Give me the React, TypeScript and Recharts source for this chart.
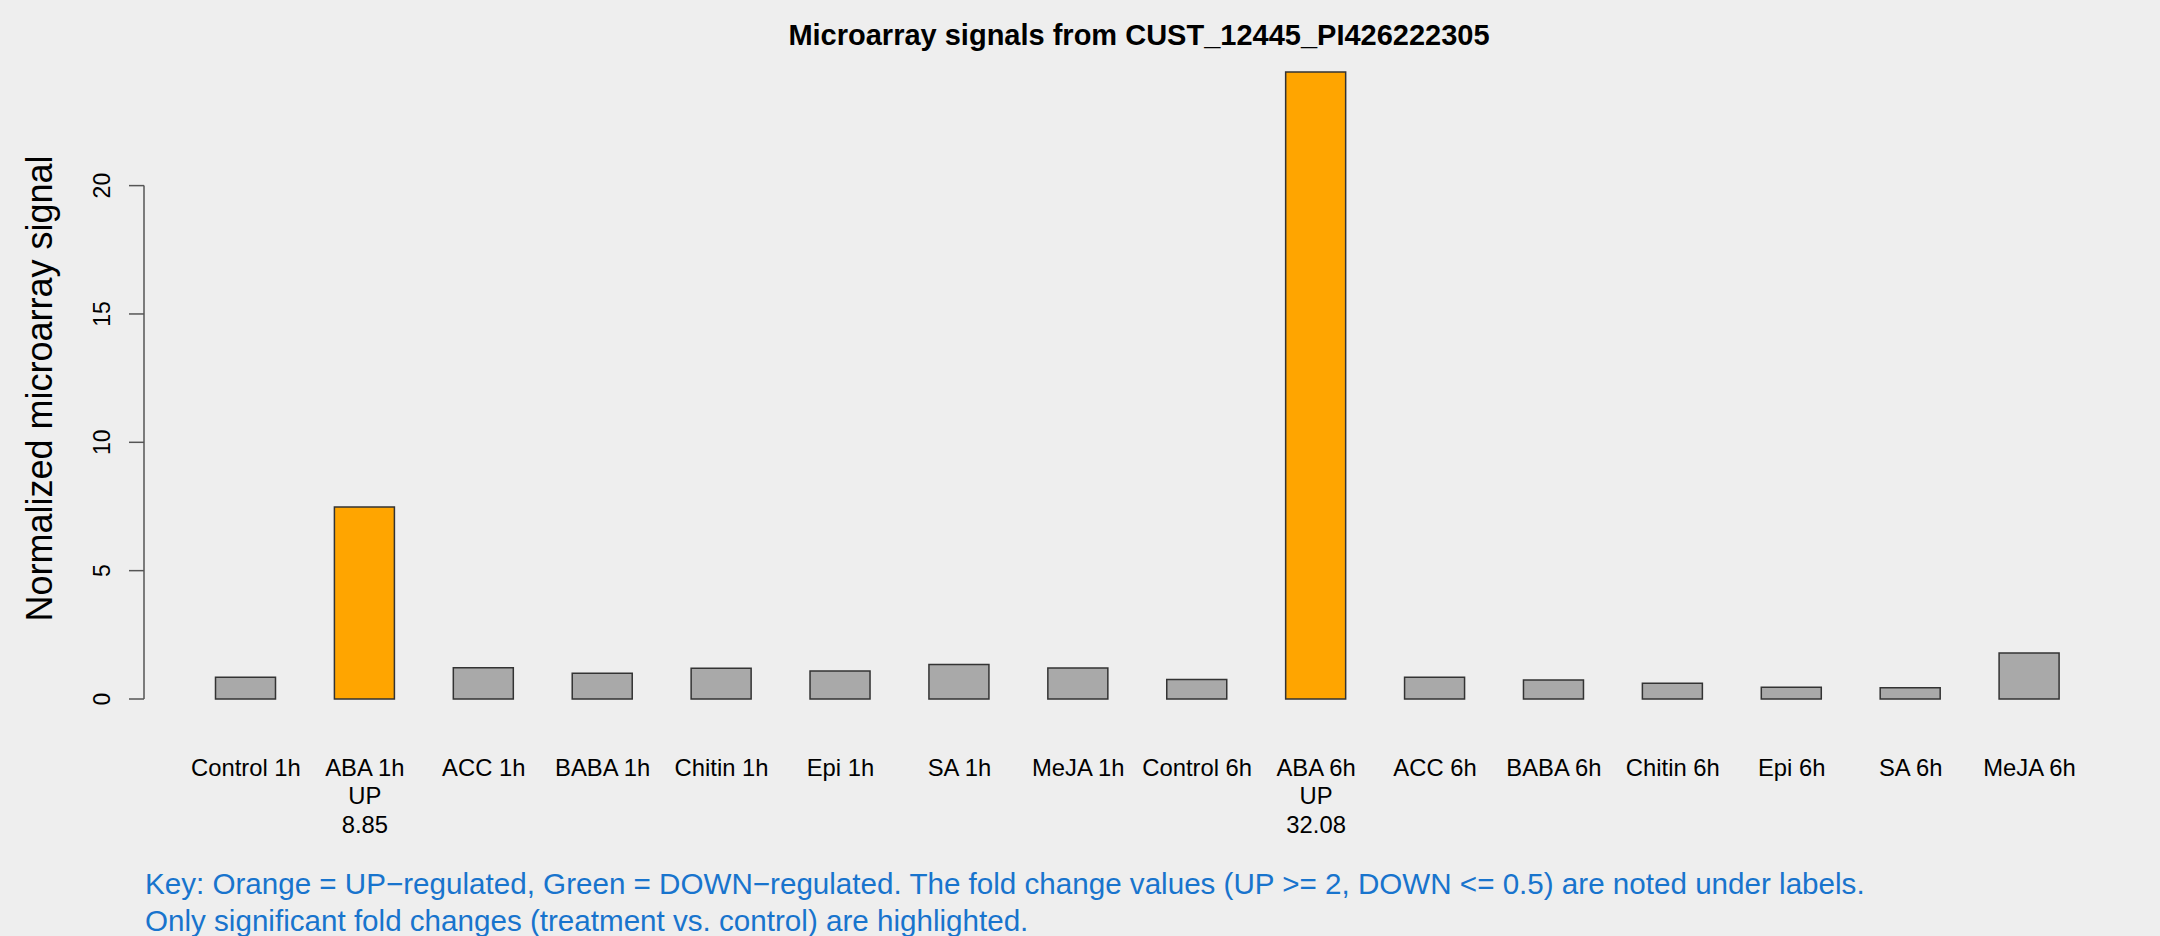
import { BarChart, Bar, XAxis, YAxis, Cell, ReferenceLine } from 'recharts'

const categories = [
  'Control 1h', 'ABA 1h', 'ACC 1h', 'BABA 1h', 'Chitin 1h', 'Epi 1h', 'SA 1h', 'MeJA 1h',
  'Control 6h', 'ABA 6h', 'ACC 6h', 'BABA 6h', 'Chitin 6h', 'Epi 6h', 'SA 6h', 'MeJA 6h',
]
const signals = [0.845, 7.48, 1.22, 1.0, 1.2, 1.09, 1.34, 1.21, 0.76, 24.43, 0.845, 0.74, 0.61, 0.455, 0.44, 1.79]
const regulation = ['', 'UP', '', '', '', '', '', '', '', 'UP', '', '', '', '', '', '']
const foldLabels = ['', '8.85', '', '', '', '', '', '', '', '32.08', '', '', '', '', '', '']
const yTicks = [0, 5, 10, 15, 20]

const chartTitle = 'Microarray signals from CUST_12445_PI426222305'
const yTitle = 'Normalized microarray signal'
const keyLines = [
  'Key: Orange = UP\u2212regulated, Green = DOWN\u2212regulated. The fold change values (UP >= 2, DOWN <= 0.5) are noted under labels.',
  'Only significant fold changes (treatment vs. control) are highlighted.',
]

const data = categories.map((name, i) => ({ name, signal: signals[i] }))

const FONT = '"Liberation Sans", Arial, Helvetica, sans-serif'
const colorFor = (reg: string) => (reg === 'UP' ? '#FFA500' : reg === 'DOWN' ? '#00C000' : '#A9A9A9')

function XTick({ x, y, payload }: any) {
  const i = categories.indexOf(payload.value)
  const lines = [payload.value]
  if (regulation[i]) lines.push(regulation[i], foldLabels[i])
  return (
    <g>
      {lines.map((t, k) => (
        <text key={k} x={x} y={y + 77 + k * 28.3} textAnchor="middle" fontSize={23.8} fill="#000" fontFamily={FONT}>
          {t}
        </text>
      ))}
    </g>
  )
}

function YTick({ x, y, payload }: any) {
  return (
    <text x={x} y={y} transform={`rotate(-90, ${x}, ${y})`} textAnchor="middle" fontSize={23} fill="#000" fontFamily={FONT}>
      {payload.value}
    </text>
  )
}

export default function App() {
  return (
    <div style={{ position: 'absolute', left: 0, top: 0, width: 2160, height: 936, background: '#EEEEEE' }}>
      <BarChart width={2160} height={936} data={data} margin={{ top: 31.6, right: 71, bottom: 137, left: 0 }}>
        <XAxis
          dataKey="name"
          axisLine={false}
          tickLine={false}
          tickSize={0}
          tickMargin={0}
          height={100}
          interval={0}
          padding={{ left: 42.5, right: 0 }}
          tick={(p: any) => <XTick {...p} />}
        />
        <XAxis xAxisId="edge" type="number" domain={[0, 1]} hide />
        <YAxis
          type="number"
          domain={[0, 26]}
          ticks={yTicks}
          interval={0}
          width={144}
          axisLine={false}
          tickLine={{ stroke: '#555', strokeWidth: 1.5 }}
          tickSize={15}
          tickMargin={19}
          tick={(p: any) => <YTick {...p} />}
        />
        <ReferenceLine
          xAxisId="edge"
          segment={[{ x: 0, y: 0 }, { x: 0, y: 20 }]}
          stroke="#555"
          strokeWidth={1.5}
          ifOverflow="visible"
        />
        <Bar dataKey="signal" barSize={60} stroke="#333" strokeWidth={1.5} isAnimationActive={false}>
          {data.map((d, i) => (
            <Cell key={d.name} fill={colorFor(regulation[i])} />
          ))}
        </Bar>
      </BarChart>
      <svg width={2160} height={936} style={{ position: 'absolute', left: 0, top: 0, pointerEvents: 'none' }}>
        <text x={1139} y={45} textAnchor="middle" fontSize={29} fontWeight="bold" fill="#000" fontFamily={FONT}>
          {chartTitle}
        </text>
        <text x={0} y={0} transform="translate(52, 388.5) rotate(-90)" textAnchor="middle" fontSize={36} fill="#000" fontFamily={FONT}>
          {yTitle}
        </text>
        {keyLines.map((t, k) => (
          <text key={k} x={145} y={894.3 + k * 36.7} fontSize={29.6} fill="#1874CD" fontFamily={FONT}>
            {t}
          </text>
        ))}
      </svg>
    </div>
  )
}
